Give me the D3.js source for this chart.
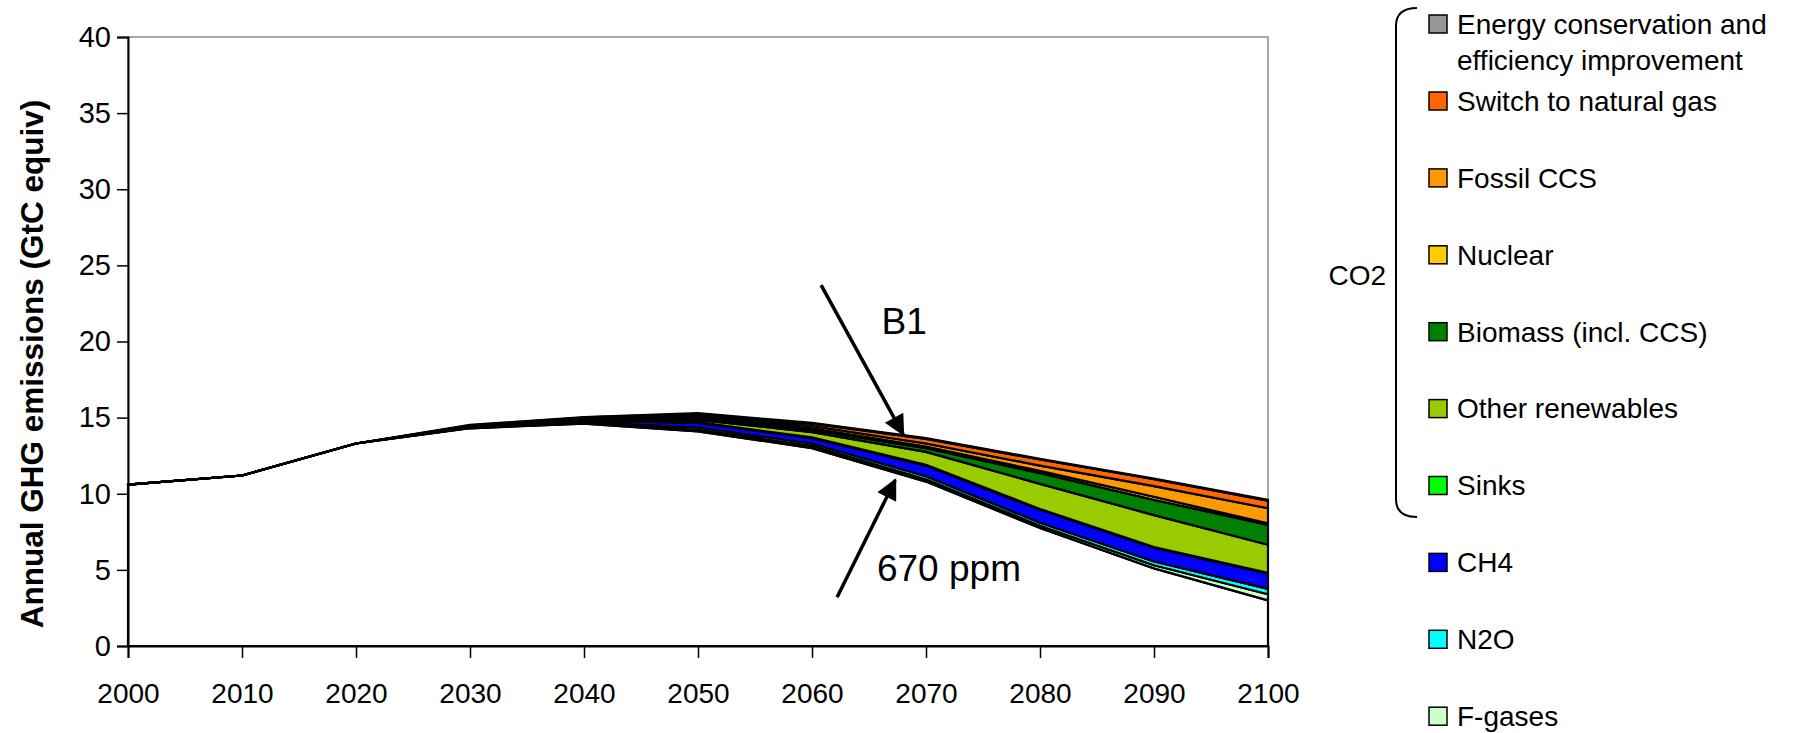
<!DOCTYPE html>
<html>
<head>
<meta charset="utf-8">
<script src="https://cdn.jsdelivr.net/npm/d3@7"></script>
<style>
  html, body { margin: 0; padding: 0; background: #ffffff; }
  svg { display: block; font-family: "Liberation Sans", Arial, sans-serif; }
</style>
</head>
<body>
<svg id="chart" width="1795" height="733"></svg>
<script>
// ---------- data ----------
const years = [2000, 2010, 2020, 2030, 2040, 2050, 2060, 2070, 2080, 2090, 2100];
const remaining      = [10.6, 11.2, 13.3, 14.3, 14.6, 14.1, 13.0, 10.8, 7.75, 5.1, 3.0];
const fGases         = [0, 0, 0, 0.02, 0.05, 0.10, 0.15, 0.15, 0.15, 0.20, 0.40];
const n2o            = [0, 0, 0, 0.03, 0.05, 0.15, 0.15, 0.20, 0.20, 0.25, 0.35];
const ch4            = [0, 0, 0, 0.05, 0.10, 0.30, 0.35, 0.70, 0.85, 0.90, 1.00];
const sinks          = [0, 0, 0, 0.00, 0.02, 0.05, 0.05, 0.05, 0.05, 0.05, 0.05];
const otherRenew     = [0, 0, 0, 0.02, 0.05, 0.15, 0.35, 0.85, 1.65, 2.10, 1.85];
const biomass        = [0, 0, 0, 0.02, 0.05, 0.10, 0.15, 0.25, 0.70, 1.00, 1.30];
const nuclear        = [0, 0, 0, 0.02, 0.03, 0.10, 0.10, 0.10, 0.15, 0.20, 0.10];
const fossilCCS      = [0, 0, 0, 0.02, 0.03, 0.10, 0.15, 0.20, 0.35, 0.70, 1.00];
const switchGas      = [0, 0, 0, 0.02, 0.03, 0.10, 0.15, 0.30, 0.40, 0.45, 0.50];
const energyCons     = [0, 0, 0, 0.02, 0.02, 0.05, 0.05, 0.05, 0.05, 0.05, 0.05];

const seriesNames = ["Remaining", "F-gases", "N2O", "CH4", "Sinks", "Other renewables",
  "Biomass (incl. CCS)", "Nuclear", "Fossil CCS", "Switch to natural gas",
  "Energy conservation and efficiency improvement"];
const seriesValues = [remaining, fGases, n2o, ch4, sinks, otherRenew, biomass, nuclear, fossilCCS, switchGas, energyCons];
const seriesColors = ["#ffffff", "#ccffcc", "#00ffff", "#0000ff", "#00ff00", "#99cc00",
  "#008000", "#ffcc00", "#ff9900", "#ff6600", "#969696"];

const legendOrder = ["Energy conservation and efficiency improvement", "Switch to natural gas",
  "Fossil CCS", "Nuclear", "Biomass (incl. CCS)", "Other renewables", "Sinks", "CH4", "N2O", "F-gases"];
const legendLines = {
  "Energy conservation and efficiency improvement": ["Energy conservation and", "efficiency improvement"]
};

const yTicks = [0, 5, 10, 15, 20, 25, 30, 35, 40];
const xTicks = years;
const yTitle = "Annual GHG emissions (GtC equiv)";

// annotations (data coordinates)
const annB1 = { label: "B1", from: [2060.8, 23.7], to: [2068.0, 13.9], text: [2066.1, 20.5] };
const ann670 = { label: "670 ppm", from: [2062.2, 3.2], to: [2067.3, 10.9], text: [2065.7, 4.3] };

// ---------- layout ----------
const svg = d3.select("#chart");
const plot = { left: 128, right: 1268, top: 37, bottom: 646 };

const x = d3.scaleLinear().domain([2000, 2100]).range([plot.left, plot.right]);
const y = d3.scaleLinear().domain([0, 40]).range([plot.bottom, plot.top]);

// table
const table = years.map((yr, i) => {
  const row = { year: yr };
  seriesNames.forEach((n, k) => row[n] = seriesValues[k][i]);
  return row;
});
const stacked = d3.stack().keys(seriesNames)(table);

// plot border (grey)
svg.append("rect")
  .attr("x", plot.left).attr("y", plot.top)
  .attr("width", plot.right - plot.left).attr("height", plot.bottom - plot.top)
  .attr("fill", "none").attr("stroke", "#8c8c8c").attr("stroke-width", 1.5);

// areas
const area = d3.area()
  .x(d => x(d.data.year))
  .y0(d => y(d[0]))
  .y1(d => y(d[1]));

svg.append("g").selectAll("path")
  .data(stacked)
  .join("path")
  .attr("d", area)
  .attr("fill", (d, i) => seriesColors[i])
  .attr("stroke", "#000")
  .attr("stroke-width", 2.2)
  .attr("stroke-linejoin", "round");

// axes
const yAxis = d3.axisLeft(y).tickValues(yTicks).tickSize(11).tickPadding(6).tickFormat(d3.format("d"));
const gy = svg.append("g").attr("transform", `translate(${plot.left},0)`).call(yAxis);
gy.select(".domain").attr("stroke", "#000").attr("stroke-width", 2);
gy.selectAll(".tick line").attr("stroke", "#000").attr("stroke-width", 1.5);
gy.selectAll(".tick text").attr("font-size", 29).attr("fill", "#000")
  .attr("font-family", "Liberation Sans, Arial, sans-serif");

const xAxis = d3.axisBottom(x).tickValues(xTicks).tickSize(12).tickPadding(25).tickFormat(d3.format("d"));
const gx = svg.append("g").attr("transform", `translate(0,${plot.bottom})`).call(xAxis);
gx.select(".domain").attr("stroke", "#000").attr("stroke-width", 2);
gx.selectAll(".tick line").attr("stroke", "#000").attr("stroke-width", 1.5);
gx.selectAll(".tick text").attr("font-size", 28).attr("fill", "#000")
  .attr("font-family", "Liberation Sans, Arial, sans-serif");

// y title
svg.append("text")
  .attr("transform", `translate(43,364) rotate(-90)`)
  .attr("text-anchor", "middle")
  .attr("font-size", 31.5).attr("font-weight", "bold")
  .text(yTitle);

// arrows
const defs = svg.append("defs");
defs.append("marker")
  .attr("id", "arrowhead")
  .attr("viewBox", "0 0 10 10")
  .attr("refX", 9).attr("refY", 5)
  .attr("markerWidth", 7).attr("markerHeight", 6)
  .attr("markerUnits", "strokeWidth")
  .attr("orient", "auto")
  .append("path").attr("d", "M0,0 L10,5 L0,10 Z").attr("fill", "#000");

[annB1, ann670].forEach(a => {
  svg.append("line")
    .attr("x1", x(a.from[0])).attr("y1", y(a.from[1]))
    .attr("x2", x(a.to[0])).attr("y2", y(a.to[1]))
    .attr("stroke", "#000").attr("stroke-width", 3.5)
    .attr("marker-end", "url(#arrowhead)");
  svg.append("text")
    .attr("x", x(a.text[0])).attr("y", y(a.text[1]))
    .attr("font-size", 37)
    .text(a.label);
});

// legend
const legend = svg.append("g");
const legX = 1429, legTextX = 1457;
legendOrder.forEach((name, i) => {
  const k = seriesNames.indexOf(name);
  const yy = i === 0 ? 24 : 101 + (i - 1) * 76.9;
  legend.append("rect")
    .attr("x", legX).attr("y", yy - 9).attr("width", 18).attr("height", 18)
    .attr("fill", seriesColors[k]).attr("stroke", "#000").attr("stroke-width", 1.5);
  const lines = legendLines[name] || [name];
  lines.forEach((ln, j) => {
    legend.append("text")
      .attr("x", legTextX).attr("y", yy + j * 36)
      .attr("dy", "0.35em")
      .attr("font-size", 28)
      .text(ln);
  });
});

// brace for CO2 group
const braceX = 1396, braceTop = 8, braceBot = 517, braceEnd = 1417, r = 18;
svg.append("path")
  .attr("d", `M${braceEnd},${braceTop} Q${braceX},${braceTop} ${braceX},${braceTop + r} L${braceX},${braceBot - r} Q${braceX},${braceBot} ${braceEnd},${braceBot}`)
  .attr("fill", "none").attr("stroke", "#000").attr("stroke-width", 2);
svg.append("text")
  .attr("x", 1386).attr("y", 275).attr("dy", "0.35em")
  .attr("text-anchor", "end").attr("font-size", 28)
  .text("CO2");
</script>
</body>
</html>
